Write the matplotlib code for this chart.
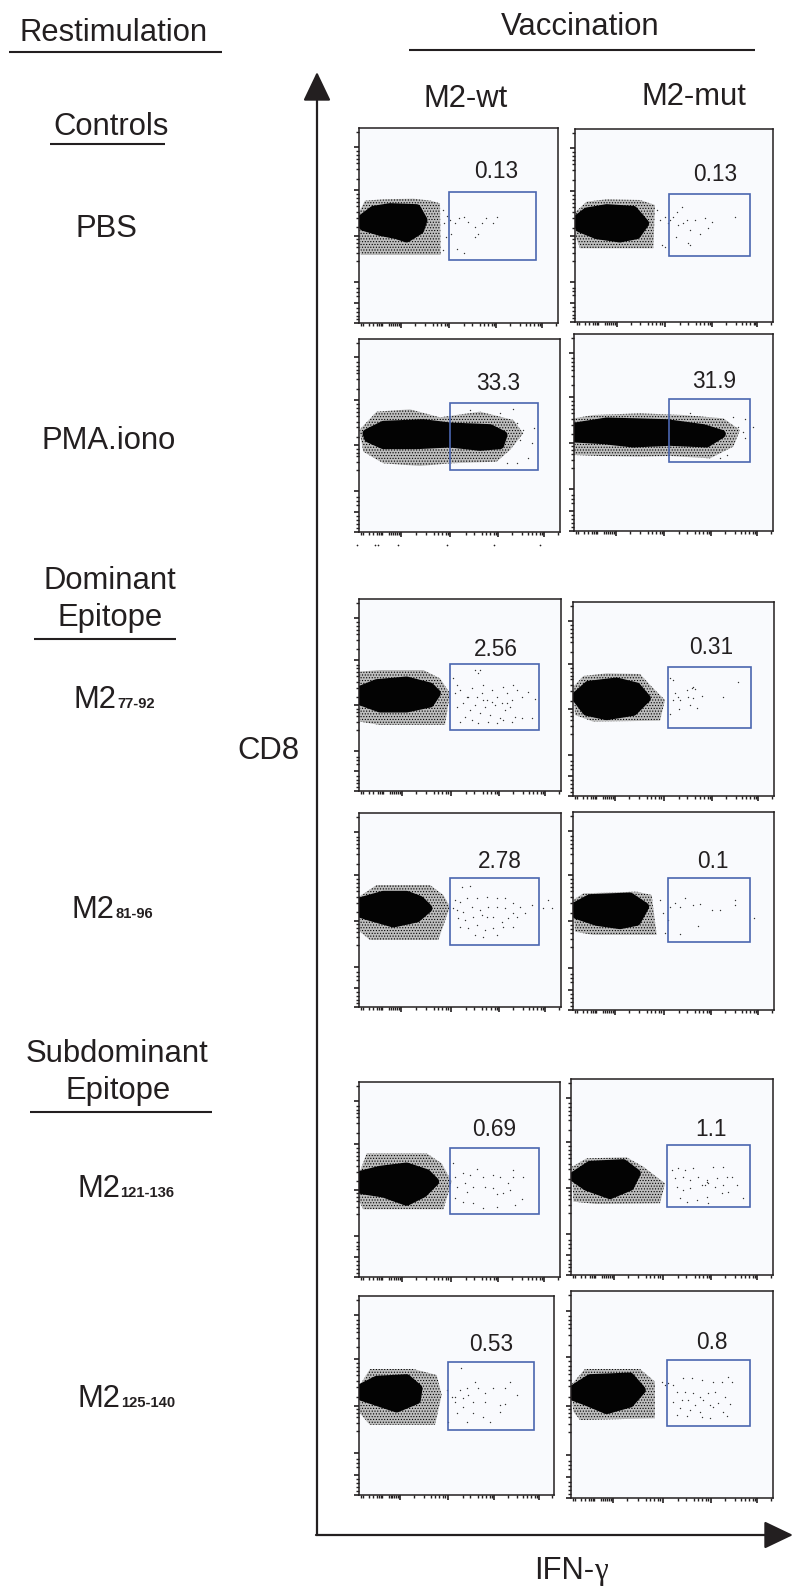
import matplotlib
matplotlib.use('Agg')
import numpy as np
from matplotlib import pyplot as plt
from matplotlib.patches import Polygon, Rectangle

plt.rcParams['font.family'] = ['Liberation Sans', 'DejaVu Sans']
plt.rcParams['hatch.linewidth'] = 0.5

# everything below (3x px, crop origin x=340, y=crop_y)
pct_labels = ['0.13', '0.13', '33.3', '31.9', '2.56', '0.31', '2.78', '0.1', '0.69', '1.1', '0.53', '0.8']

pbs_wt_halo = [(58,305),(75,272),(130,268),(220,266),(272,272),(300,280),(302,435),(62,435),(58,380)]
pbs_wt_core = [(60,330),(100,300),(150,292),(230,295),(250,330),(240,360),(200,385),(170,375),(120,365),(70,350)]
pbs_wt_dots = [(330,330),(345,340),(358,325),(372,322),(385,335),(405,350),(413,372),(405,382),(437,323),(472,322),(460,338),(333,372),(350,418),(372,430),(322,318),(425,340),(308,300),(312,340),(318,380),(310,420)]

pbs_mut_halo = [(707,305),(740,275),(800,268),(900,270),(945,285),(940,415),(720,415),(707,380)]
pbs_mut_core = [(708,330),(740,305),(800,295),(880,300),(915,340),(890,375),(840,385),(770,375),(720,355)]
pbs_mut_dots = [(950,300),(960,330),(975,320),(965,405),(975,410),(990,330),(1000,320),(1010,305),(1025,290),(1015,345),(1030,340),(1050,360),(1065,330),(1095,325),(1105,355),(1115,335),(1185,320),(1080,372),(1045,398),(1008,382),(1050,405),(1040,330),(985,340)]

pma_wt_halo = [(58,300),(110,245),(210,238),(300,262),(420,245),(520,270),(550,310),(510,360),(470,395),(330,400),(240,408),(130,400),(70,365)]
pma_wt_core = [(80,310),(130,285),(250,280),(330,290),(450,295),(490,315),(480,345),(420,350),(330,340),(230,345),(130,345),(85,325)]
pma_wt_dots = [(540,330),(550,300),(530,280),(582,293),(575,340),(565,385),(520,238),(480,250),(390,240),(530,400),(500,400)]

pma_mut_halo = [(703,265),(760,255),(900,250),(1030,255),(1150,265),(1200,300),(1180,350),(1110,385),(990,378),(900,380),(780,378),(703,375)]
pma_mut_core = [(705,290),(800,275),(980,280),(1090,295),(1145,312),(1100,340),(990,335),(880,340),(790,330),(705,325)]
pma_mut_dots = [(1238,290),(1215,268),(1215,325),(1195,290),(1210,305),(1180,260),(1160,375),(1140,385),(1050,248)]

m77_wt_halo = [(58,245),(120,240),(250,240),(300,265),(330,310),(315,405),(120,405),(60,395)]
m77_wt_core = [(60,300),(110,280),(200,272),(270,290),(290,310),(270,340),(200,355),(120,355),(65,335)]
m77_wt_dots = [(345,310),(360,300),(380,320),(395,295),(410,320),(425,310),(440,330),(455,300),(470,320),(485,340),(500,310),(515,330),(530,300),(545,320),(565,305),(585,328),(350,350),(370,340),(390,360),(405,345),(420,370),(435,350),(450,375),(465,345),(480,385),(495,360),(510,350),(525,380),(375,380),(360,395),(395,390),(415,400),(445,395),(470,400),(490,390),(515,395),(545,385),(405,240),(420,240),(415,250),(340,265),(520,285),(490,290),(430,285),(350,285),(575,385),(385,320),(500,340),(430,330),(455,335)]

m77_mut_halo = [(700,290),(730,258),(800,250),(900,252),(935,290),(975,330),(960,392),(760,395),(705,375)]
m77_mut_core = [(705,320),(745,285),(830,275),(890,290),(920,325),(880,365),(800,378),(740,365)]
m77_mut_dots = [(990,265),(998,270),(1005,310),(1015,320),(1000,330),(1020,330),(1040,300),(1055,295),(1065,298),(1045,320),(1060,325),(1085,318),(1050,345),(1070,355),(1018,358),(990,372),(1195,275),(1150,322),(1060,290)]

m81_wt_halo = [(57,290),(110,255),(270,255),(310,285),(330,320),(295,420),(90,420),(60,395)]
m81_wt_core = [(58,305),(130,285),(200,285),(240,300),(265,325),(230,355),(160,370),(90,350),(58,340)]
m81_wt_dots = [(345,300),(360,305),(380,295),(410,295),(440,290),(470,295),(495,295),(520,310),(540,320),(350,330),(370,335),(395,320),(420,330),(445,320),(470,320),(495,325),(520,340),(355,355),(375,360),(400,350),(425,345),(440,350),(460,350),(485,365),(505,355),(530,350),(555,340),(575,315),(360,380),(385,385),(410,375),(435,390),(460,385),(490,380),(520,380),(405,405),(430,410),(470,405),(365,260),(390,258),(625,300),(610,325),(635,325),(340,325)]

m81_mut_halo = [(700,300),(730,280),(890,275),(935,285),(950,405),(760,405),(705,395)]
m81_mut_core = [(703,320),(750,295),(870,290),(915,320),(890,365),(840,375),(770,365),(710,345)]
m81_mut_dots = [(960,300),(970,340),(975,400),(990,320),(1005,310),(1020,320),(1036,295),(1060,315),(1080,312),(1115,330),(1140,330),(1185,300),(1185,315),(1075,378),(1020,402),(985,360),(1243,355)]

m121_wt_halo = [(58,310),(80,250),(260,250),(305,280),(335,335),(310,418),(70,418),(58,395)]
m121_wt_core = [(60,315),(120,300),(200,290),(260,310),(285,335),(250,370),(200,395),(130,370),(65,360)]
m121_wt_dots = [(345,320),(370,310),(390,315),(412,298),(430,320),(460,315),(480,320),(520,300),(520,320),(550,320),(350,350),(375,340),(380,365),(400,350),(435,350),(460,355),(470,372),(490,370),(510,360),(345,385),(370,395),(400,400),(430,415),(470,410),(525,405),(545,388),(505,340),(340,280)]

m121_mut_halo = [(696,290),(740,265),(860,262),(910,290),(975,340),(960,400),(770,402),(700,395)]
m121_mut_core = [(697,320),(750,285),(850,280),(890,310),(870,350),(810,375),(740,350)]
m121_mut_dots = [(995,300),(1015,295),(1035,300),(1060,295),(1120,290),(1150,290),(1005,325),(1030,320),(1050,330),(1075,320),(1100,335),(1130,325),(1160,320),(1175,320),(1010,350),(1030,360),(1050,355),(1085,345),(1105,340),(1125,350),(1150,345),(1190,345),(1020,385),(1040,395),(1070,390),(1100,380),(1145,370),(1165,365),(1210,385),(1105,398),(1095,345),(1100,330)]

m125_wt_halo = [(60,300),(90,252),(220,252),(290,270),(305,330),(285,420),(90,420),(60,385)]
m125_wt_core = [(60,310),(110,285),(200,280),(235,310),(230,345),(170,370),(110,350),(65,335)]
m125_wt_dots = [(363,250),(320,315),(335,335),(345,335),(360,315),(380,310),(405,290),(415,310),(435,325),(460,310),(495,310),(510,290),(530,330),(370,340),(385,330),(345,350),(370,365),(400,350),(435,350),(480,360),(495,358),(480,380),(400,385),(380,412),(430,395),(450,410),(350,385),(325,412)]

m125_mut_halo = [(693,300),(735,252),(900,252),(945,290),(945,400),(720,405),(700,380)]
m125_mut_core = [(695,315),(750,280),(870,275),(905,315),(870,355),(800,375),(740,350),(700,335)]
m125_mut_dots = [(985,295),(1000,300),(1030,278),(1055,280),(1085,285),(1120,290),(1145,290),(1165,275),(1175,290),(1010,320),(1035,320),(1060,325),(1080,335),(1105,325),(1125,320),(1155,335),(1000,350),(1025,345),(1045,345),(1065,360),(1090,345),(1110,360),(1135,355),(1170,358),(1020,370),(1050,375),(1080,380),(1120,365),(1150,380),(1040,392),(1085,395),(1110,400),(1160,392),(1010,390),(965,290),(975,300)]

halos = [pbs_wt_halo, pbs_mut_halo, pma_wt_halo, pma_mut_halo, m77_wt_halo, m77_mut_halo, m81_wt_halo, m81_mut_halo, m121_wt_halo, m121_mut_halo, m125_wt_halo, m125_mut_halo]
cores = [pbs_wt_core, pbs_mut_core, pma_wt_core, pma_mut_core, m77_wt_core, m77_mut_core, m81_wt_core, m81_mut_core, m121_wt_core, m121_mut_core, m125_wt_core, m125_mut_core]
dots = [pbs_wt_dots, pbs_mut_dots, pma_wt_dots, pma_mut_dots, m77_wt_dots, m77_mut_dots, m81_wt_dots, m81_mut_dots, m121_wt_dots, m121_mut_dots, m125_wt_dots, m125_mut_dots]

# stray tick remains under the PMA wt panel, figure px
stray_x = [357, 375, 378, 398, 447, 494, 540]

# log decade ticks, as fraction along the panel edge
x_major = [0.21, 0.454, 0.69, 0.92]
x_minor = [0.01, 0.02, 0.05, 0.07, 0.09, 0.1, 0.11, 0.115, 0.15, 0.16, 0.17, 0.18, 0.19, 0.2,
           0.28, 0.33, 0.37, 0.39, 0.41, 0.43, 0.44, 0.53, 0.57, 0.61, 0.63, 0.65, 0.67, 0.68,
           0.76, 0.81, 0.84, 0.86, 0.88, 0.9, 0.91, 0.99]
y_major = [0.097, 0.319, 0.553, 0.79, 0.898, 1.0]
y_minor = [0.02, 0.12, 0.14, 0.16, 0.18, 0.21, 0.26, 0.34, 0.36, 0.38, 0.4, 0.43, 0.46, 0.51,
           0.57, 0.59, 0.61, 0.64, 0.68, 0.82, 0.84, 0.86, 0.92, 0.94, 0.96, 0.98]

# left, right, top, bottom of each panel in crop px, then crop y origin
frames = [(58,653,53,640,110), (705,1300,58,637,110),
          (58,660,26,605,330), (703,1298,13,602,330),
          (58,664,28,603,590), (698,1302,35,618,590),
          (57,664,40,622,800), (698,1301,36,630,800),
          (58,661,37,620,1070), (694,1300,28,616,1070),
          (58,643,32,630,1285), (692,1300,18,640,1285)]
gates = [(326,589,247,450), (988,1230,252,437),
         (329,595,220,420), (986,1230,208,397),
         (331,598,221,420), (985,1233,230,414),
         (331,598,235,436), (985,1230,235,426),
         (330,596,233,432), (982,1229,224,412),
         (324,581,232,435), (981,1229,226,422)]
label_pos = [(470,185), (1125,193), (475,160), (1122,155), (467,178), (1115,172),
             (478,185), (1120,183), (463,178), (1113,178), (455,178), (1117,172)]

W, H = 800, 1592
ink = '#231f20'
fig = plt.figure(figsize=(8, 15.92), dpi=100)

bg = fig.add_axes([0, 0, 1, 1])
bg.set_xlim(0, W)
bg.set_ylim(H, 0)
bg.axis('off')


def txt(x, y, s, size=22.3, **kw):
    bg.text(x, y, s, fontsize=size, color=ink, va='baseline', **kw)


txt(20, 41, 'Restimulation')
txt(501, 35, 'Vaccination')
txt(424, 107, 'M2-wt')
txt(641, 105, 'M2-mut')
txt(53, 135, 'Controls')
txt(76, 237, 'PBS')
txt(42, 449, 'PMA.iono')
txt(43, 589, 'Dominant')
txt(57, 626, 'Epitope')
txt(26, 1062, 'Subdominant')
txt(65, 1099, 'Epitope')
txt(237, 759, 'CD8')
txt(534, 1579, 'IFN-')
txt(594, 1579, 'γ', family='Liberation Serif')

epitopes = [(74, 117, 708, '77-92'), (72, 115, 918, '81-96'),
            (77, 120, 1197, '121-136'), (78, 121, 1407, '125-140')]
for x1, x2, y, sub in epitopes:
    txt(x1, y, 'M2')
    txt(x2, y, sub, size=10.6, fontweight='bold')

rules = [(9, 222, 52), (409, 755, 50), (50, 165, 144), (34, 176, 639), (30, 212, 1112)]
for x1, x2, y in rules:
    bg.plot([x1, x2], [y, y], color=ink, lw=1.5, solid_capstyle='butt')

arrow = dict(arrowstyle='-|>,head_length=1.8,head_width=0.86', mutation_scale=10,
             color=ink, lw=1.6, shrinkA=0, shrinkB=0)
bg.annotate('', xy=(317, 72), xytext=(317, 1535), arrowprops=arrow)
bg.annotate('', xy=(793, 1535), xytext=(316, 1535), arrowprops=arrow)
bg.scatter(stray_x, [545] * len(stray_x), s=1.5, color=ink, linewidths=0)

for i in range(12):
    l, r, t, b, cy = frames[i]
    x0 = 340 + l / 3
    x1 = 340 + r / 3
    y0 = cy + t / 3
    y1 = cy + b / 3
    ax = fig.add_axes([x0 / W, 1 - y1 / H, (x1 - x0) / W, (y1 - y0) / H])
    ax.set_xlim(l, r)
    ax.set_ylim(b, t)
    ax.set_facecolor('#f9fafd')
    for s in ax.spines.values():
        s.set_linewidth(1.1)
        s.set_color(ink)

    # speckled fringe, then the solid core
    ax.add_patch(Polygon(halos[i], closed=True, facecolor='#bdbdbd', edgecolor='#000000',
                         hatch='......', lw=0))
    ax.add_patch(Polygon(cores[i], closed=True, facecolor='#030303', edgecolor='#030303',
                         lw=6, joinstyle='round'))
    d = np.array(dots[i])
    ax.scatter(d[:, 0], d[:, 1], s=1.0, color='#333333', linewidths=0)

    gl, gr, gt, gb = gates[i]
    ax.add_patch(Rectangle((gl, gt), gr - gl, gb - gt, fill=False, edgecolor='#4a66b0', lw=1.2))
    ax.text(label_pos[i][0], label_pos[i][1], pct_labels[i], fontsize=16.3, color=ink,
            ha='center', va='center')

    ax.set_xticks([l + f * (r - l) for f in x_major])
    ax.set_xticks([l + f * (r - l) for f in x_minor], minor=True)
    ax.set_yticks([t + f * (b - t) for f in y_major])
    ax.set_yticks([t + f * (b - t) for f in y_minor], minor=True)
    ax.tick_params(which='major', length=3.5, width=1.2, labelbottom=False, labelleft=False, color=ink)
    ax.tick_params(which='minor', length=2.4, width=1.0, color=ink)

fig.savefig('out.png', dpi=100)
